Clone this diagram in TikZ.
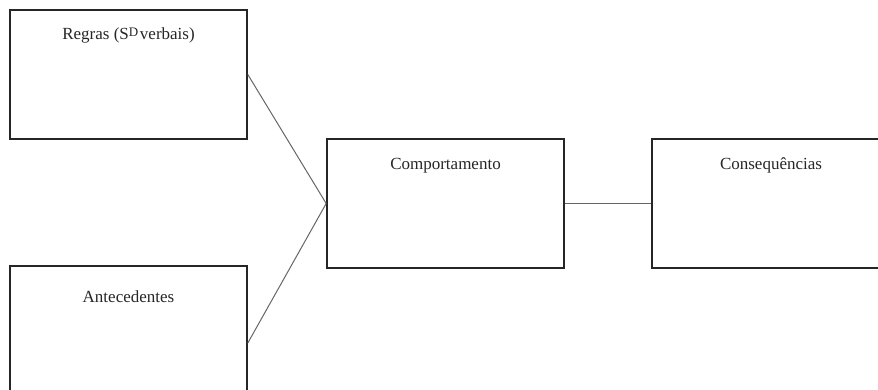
\documentclass[tikz,border=0pt]{standalone}
\usepackage{fontspec}
\setmainfont{Liberation Serif}
\begin{document}
\begin{tikzpicture}[x=1pt,y=-1pt,
  box/.style={draw=black!85, line width=1.6pt, rectangle, inner sep=0pt},
  lbl/.style={font=\fontsize{17}{20}\selectfont, inner sep=0pt, text=black!85},
  conn/.style={draw=black!60, line width=1pt}]
\useasboundingbox (0,0) rectangle (878,390);
\clip (0,0) rectangle (878,390);
\node[box, minimum width=237pt, minimum height=129pt] (regras) at (128.5,74.5) {};
\node[box, minimum width=237pt, minimum height=154pt] (antec) at (128.5,343) {};
\node[box, minimum width=237pt, minimum height=129pt] (comp) at (445.5,203.5) {};
\node[box, minimum width=238pt, minimum height=129pt] (cons) at (771,203.5) {};
\node[lbl] (regrasT) at ([yshift=-26.5pt]regras.north) {Regras (S\raisebox{0.45ex}{\fontsize{13}{14}\selectfont D}\hspace{0.1em}verbais)};
\node[lbl] (antecT) at ([yshift=-31pt]antec.north) {Antecedentes};
\node[lbl] (compT) at ([yshift=-27pt]comp.north) {Comportamento};
\node[lbl] (consT) at ([yshift=-27pt]cons.north) {Consequências};
\draw[conn] (regras.east) -- (comp.west);
\draw[conn] (antec.east) -- (comp.west);
\draw[conn] (comp.east) -- (cons.west);
\end{tikzpicture}
\end{document}
